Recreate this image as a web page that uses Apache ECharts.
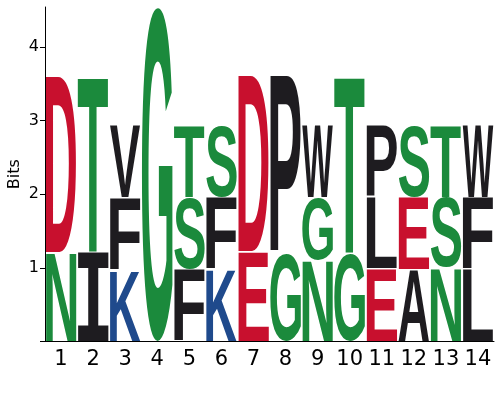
<!DOCTYPE html>
<html>
<head>
<meta charset="utf-8">
<script src="https://cdn.jsdelivr.net/npm/echarts@6/dist/echarts.min.js"></script>
<style>
    html, body { margin: 0; padding: 0; background: #fff; }
    #logo { width: 500px; height: 400px; }
</style>
</head>
<body>
<div id="logo"></div>
<script>
// positions along the motif
var positions = ['1', '2', '3', '4', '5', '6', '7', '8', '9', '10', '11', '12', '13', '14'];
// letters of each column, bottom to top
var columnLetters = [
    ['N', 'D'], ['I', 'T'], ['K', 'F', 'V'], ['G'], ['F', 'S', 'T'], ['K', 'F', 'S'], ['E', 'D'],
    ['G', 'P'], ['N', 'G', 'W'], ['G', 'T'], ['E', 'L', 'P'], ['A', 'E', 'S'], ['N', 'S', 'T'], ['L', 'F', 'W']
];
// height (bits) of each letter, same order
var columnBits = [
    [1.21, 2.40], [1.21, 2.40], [0.97, 0.99, 0.98], [4.54], [0.98, 0.97, 0.99], [0.98, 0.98, 0.98], [1.22, 2.39],
    [1.20, 2.41], [1.10, 0.86, 0.98], [1.20, 2.41], [0.99, 0.97, 0.98], [0.98, 0.98, 0.98], [1.00, 0.96, 0.98], [0.98, 0.98, 0.98]
];
var yTicks = [1, 2, 3, 4];

var letterColors = {
    D: '#c8102e', E: '#c8102e',
    N: '#1b8a3c', T: '#1b8a3c', G: '#1b8a3c', S: '#1b8a3c',
    K: '#1f4a8c'
};
var otherColor = '#1e1c20';

var FONT = 'bold 100px "Liberation Sans"';
// the logo's I has bars top and bottom
var FONT_I = 'bold 100px "DejaVu Sans Mono"';
function fontFor(ch) { return ch === 'I' ? FONT_I : FONT; }

var measureCtx = document.createElement('canvas').getContext('2d');
measureCtx.textBaseline = 'middle';
measureCtx.textAlign = 'left';
var glyphBox = {};
function getBox(ch) {
    if (!glyphBox[ch]) {
        measureCtx.font = fontFor(ch);
        var m = measureCtx.measureText(ch);
        glyphBox[ch] = {
            left: m.actualBoundingBoxLeft,
            right: m.actualBoundingBoxRight,
            asc: m.actualBoundingBoxAscent,
            desc: m.actualBoundingBoxDescent
        };
    }
    return glyphBox[ch];
}

var stacks = [];
columnLetters.forEach(function (letters, i) {
    var base = 0;
    letters.forEach(function (ch, j) {
        var h = columnBits[i][j];
        stacks.push({ value: [i, base, base + h], letter: ch });
        base += h;
    });
});

var myChart = echarts.init(document.getElementById('logo'));
var option = {
    backgroundColor: '#fff',
    animation: false,
    grid: { left: 45, right: 6, top: 7, bottom: 58.5, outerBoundsMode: 'none', containLabel: false },
    xAxis: {
        type: 'category',
        data: positions,
        axisLine: { lineStyle: { color: '#000', width: 1 } },
        axisTick: { alignWithLabel: true, length: 4, lineStyle: { color: '#000' } },
        axisLabel: { interval: 0, fontSize: 21, color: '#000', margin: 8, fontFamily: 'DejaVu Sans' },
        splitLine: { show: false }
    },
    yAxis: {
        type: 'value',
        min: 0,
        max: 4.54,
        interval: 1,
        name: 'Bits',
        nameLocation: 'middle',
        nameGap: 22,
        nameMoveOverlap: false,
        nameTextStyle: { fontSize: 16, color: '#000', fontFamily: 'DejaVu Sans' },
        axisLine: { show: true, lineStyle: { color: '#000', width: 1 } },
        axisTick: { show: true, length: 5, lineStyle: { color: '#000' } },
        axisLabel: {
            fontSize: 16, color: '#000', margin: 6, fontFamily: 'DejaVu Sans',
            showMaxLabel: false,
            formatter: function (v) { return yTicks.indexOf(v) >= 0 ? String(v) : ''; }
        },
        splitLine: { show: false }
    },
    series: [{
        type: 'custom',
        data: stacks.map(function (s) { return s.value; }),
        encode: { x: 0, y: [1, 2] },
        renderItem: function (params, api) {
            var item = stacks[params.dataIndex];
            var bottom = api.coord([api.value(0), api.value(1)]);
            var top = api.coord([api.value(0), api.value(2)]);
            var band = api.size([1, 0])[0];
            var w = band - 1.4;
            var x0 = bottom[0] - w / 2;
            var yTop = top[1] + 0.5;
            var yBot = bottom[1] - 0.5;
            var b = getBox(item.letter);
            var sx = w / (b.left + b.right);
            var sy = (yBot - yTop) / (b.asc + b.desc);
            return {
                type: 'text',
                x: x0 + b.left * sx,
                y: yTop + b.asc * sy,
                scaleX: sx,
                scaleY: sy,
                style: {
                    text: item.letter,
                    font: fontFor(item.letter),
                    fill: letterColors[item.letter] || otherColor,
                    align: 'left',
                    verticalAlign: 'middle'
                }
            };
        }
    }]
};
myChart.setOption(option);
</script>
</body>
</html>
